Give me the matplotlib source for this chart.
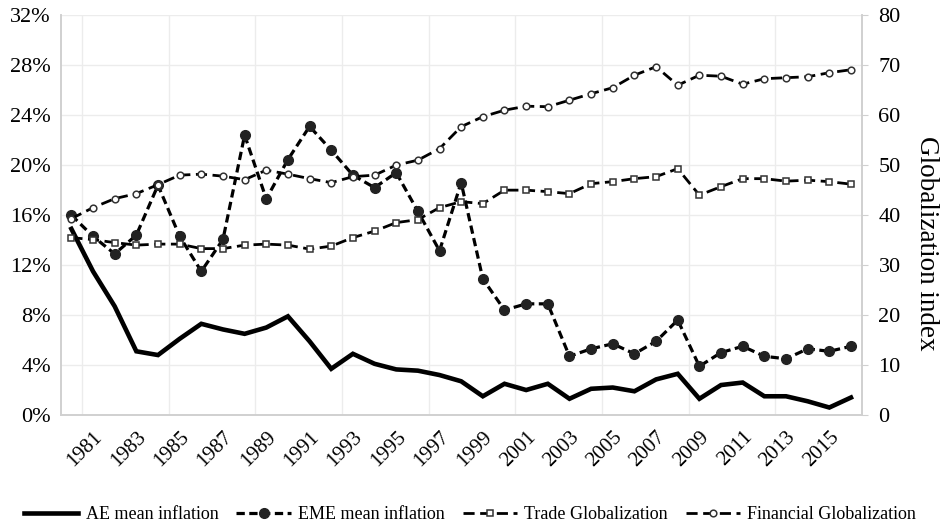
import matplotlib.pyplot as plt
import numpy as np
from matplotlib.ticker import FuncFormatter

plt.rcParams["font.family"] = ["Liberation Serif", "DejaVu Serif"]

years = np.arange(1980, 2017)

# inflation, % (left axis)
ae_inflation = [14.9, 11.5, 8.7, 5.1, 4.8, 6.1, 7.3, 6.85, 6.5, 7.0,
                7.9, 5.9, 3.7, 4.9, 4.1, 3.65, 3.55, 3.2, 2.7, 1.5,
                2.5, 2.0, 2.5, 1.3, 2.1, 2.2, 1.9, 2.85, 3.3, 1.3,
                2.4, 2.6, 1.5, 1.5, 1.1, 0.6, 1.4]
eme_inflation = [16.0, 14.3, 12.9, 14.4, 18.4, 14.3, 11.5, 14.05, 22.4, 17.3,
                 20.45, 23.1, 21.2, 19.2, 18.2, 19.4, 16.3, 13.15, 18.6, 10.9,
                 8.4, 8.9, 8.9, 4.7, 5.3, 5.7, 4.9, 5.9, 7.6, 3.9,
                 5.0, 5.5, 4.7, 4.5, 5.3, 5.1, 5.5]

# globalization index (right axis)
trade_glob = [35.5, 35.1, 34.5, 34.0, 34.2, 34.2, 33.3, 33.3, 34.0, 34.2,
              34.0, 33.2, 33.8, 35.5, 36.8, 38.5, 39.1, 41.5, 42.7, 42.3,
              45.0, 45.0, 44.7, 44.3, 46.3, 46.7, 47.3, 47.7, 49.3, 44.0,
              45.7, 47.3, 47.3, 46.8, 47.0, 46.7, 46.2]
financial_glob = [39.3, 41.5, 43.3, 44.3, 46.1, 48.0, 48.2, 47.8, 47.1, 49.0,
                  48.2, 47.3, 46.5, 47.7, 48.0, 50.0, 51.0, 53.3, 57.7, 59.7,
                  61.0, 61.8, 61.7, 63.0, 64.3, 65.5, 68.0, 69.7, 66.0, 68.0,
                  67.8, 66.2, 67.3, 67.5, 67.7, 68.5, 69.1]

year_labels = [str(y) for y in range(1981, 2016, 2)]

fig = plt.figure(figsize=(9.46, 5.26), dpi=100)
ax1 = fig.add_axes([0.064, 0.211, 0.847, 0.760])
ax2 = ax1.twinx()

grid_col = "#ececec"
spine_col = "#d0d0d0"

# lineas de inflacion (eje izquierdo)
l_ae, = ax1.plot(years, np.array(ae_inflation) / 100, color="black", lw=3.3,
                 solid_joinstyle="miter", zorder=4, label="AE mean inflation")
l_eme, = ax1.plot(years, np.array(eme_inflation) / 100, color="black", lw=2.3,
                  marker="o", markersize=7, markerfacecolor="#222222",
                  markeredgecolor="#222222", zorder=4, label="EME mean inflation")
l_eme.set_dashes((2.6, 1.4))

# globalizacion (eje derecho)
l_trade, = ax2.plot(years, trade_glob, color="black", lw=2.0, marker="s",
                    markersize=4.8, markerfacecolor="white",
                    markeredgecolor="#333333", markeredgewidth=1.1,
                    label="Trade Globalization")
l_trade.set_dashes((4.0, 2.0))
l_fin, = ax2.plot(years, financial_glob, color="black", lw=2.0, marker="o",
                  markersize=4.8, markerfacecolor="white",
                  markeredgecolor="#333333", markeredgewidth=1.1,
                  label="Financial Globalization")
l_fin.set_dashes((4.0, 2.0))

ax1.set_xlim(1979.5, 2016.5)
ax1.set_ylim(0, 0.32)
ax2.set_ylim(0, 80)

ax1.set_yticks(np.arange(0, 0.33, 0.04))
ax1.yaxis.set_major_formatter(FuncFormatter(lambda v, p: f"{v * 100:.0f}%"))
ax2.set_yticks(np.arange(0, 81, 10))

ax1.set_xticks(range(1981, 2016, 2))
ax1.set_xticklabels(year_labels, rotation=45, ha="right",
                    rotation_mode="anchor", fontsize=15)
ax1.set_xticks(np.arange(1980.5, 2016, 4), minor=True)

ax1.tick_params(axis="x", which="both", length=0, pad=9)
ax1.tick_params(axis="y", length=0, pad=7, labelsize=16)
ax2.tick_params(axis="y", length=4, color=spine_col, pad=8, labelsize=16)

ax1.grid(axis="y", color=grid_col, lw=1)
ax1.grid(axis="x", which="minor", color=grid_col, lw=1)
ax1.set_axisbelow(True)

for ax in (ax1, ax2):
    ax.spines["top"].set_visible(False)
    for s in ("left", "right", "bottom"):
        ax.spines[s].set_color(spine_col)
        ax.spines[s].set_linewidth(1.2)

ax2.set_ylabel("Globalization index", fontsize=19.5, rotation=270,
               va="center", ha="center")
ax2.yaxis.set_label_coords(1.081, 0.43)

fig.legend(handles=[l_ae, l_eme, l_trade, l_fin], loc="center",
           bbox_to_anchor=(0.497, 0.022), ncol=4, frameon=False,
           fontsize=13, handlelength=3.0, columnspacing=1.0,
           handletextpad=0.4)

fig.savefig("out.png", dpi=100)
